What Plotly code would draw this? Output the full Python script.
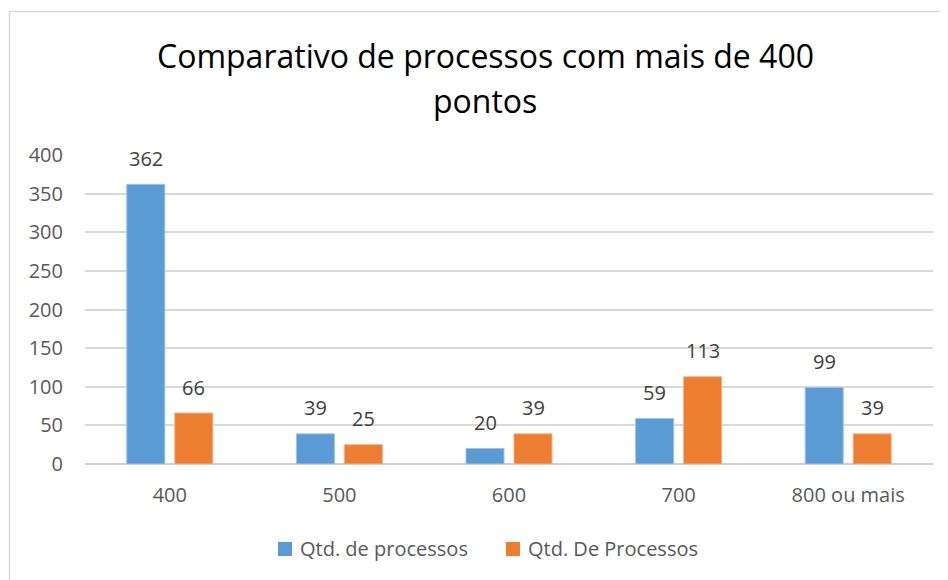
import plotly.graph_objects as go

categories = ["400", "500", "600", "700", "800 ou mais"]
serie_a_nome = "Qtd. de processos"
serie_a = [362, 39, 20, 59, 99]
serie_b_nome = "Qtd. De Processos"
serie_b = [66, 25, 39, 113, 39]
y_ticks = [0, 50, 100, 150, 200, 250, 300, 350, 400]
title_lines = ["Comparativo de processos com mais de 400", "pontos"]

FONT = "Open Sans"
W, H = 940, 572          # browser body has an 8px margin
L, R, T, B = 77, 15, 147, 116
pw = W - L - R
ph = H - T - B

def px_x(x):
    return (x - L) / pw

def px_y(y):
    return (H - B - y) / ph

BLUE = "#5B9BD5"
ORANGE = "#ED7D31"

fig = go.Figure()
fig.add_bar(
    x=categories, y=serie_a, name=serie_a_nome,
    marker=dict(color=BLUE, line=dict(color="#9DC3E6", width=1)),
)
fig.add_bar(
    x=categories, y=serie_b, name=serie_b_nome,
    marker=dict(color=ORANGE, line=dict(color="#F4B183", width=1)),
)

annotations = []
# data labels: x given as category index (numeric-looking names would be read as indices)
for i, (va, vb) in enumerate(zip(serie_a, serie_b)):
    for v, dx in ((va, -24), (vb, 24)):
        annotations.append(dict(
            x=i, y=v, xref="x", yref="y", text=str(v), showarrow=False,
            xshift=dx, yshift=26, yanchor="middle", xanchor="center",
            font=dict(family=FONT, size=20, color="#404040"),
        ))

# title (two lines, placed individually)
for line, cy in zip(title_lines, (48, 92)):
    annotations.append(dict(
        x=px_x(477), y=px_y(cy), xref="paper", yref="paper", text=line,
        showarrow=False, xanchor="center", yanchor="middle",
        font=dict(family=FONT, size=32, color="#000000"),
    ))

# manual legend
legend_items = [(serie_a_nome, BLUE, 270, 290), (serie_b_nome, ORANGE, 498, 518)]
shapes = []
for name, col, sx, tx in legend_items:
    shapes.append(dict(
        type="rect", xref="paper", yref="paper",
        x0=px_x(sx), x1=px_x(sx + 14), y0=px_y(548), y1=px_y(534),
        line=dict(width=0), fillcolor=col,
    ))
    annotations.append(dict(
        x=px_x(tx), y=px_y(540), xref="paper", yref="paper", text=name,
        showarrow=False, xanchor="left", yanchor="middle",
        font=dict(family=FONT, size=20, color="#595959"),
    ))

shapes.append(dict(
    type="rect", xref="paper", yref="paper",
    x0=px_x(1.5), x1=px_x(960), y0=px_y(600), y1=px_y(3.5),
    line=dict(color="#D9D9D9", width=1.5), fillcolor="rgba(0,0,0,0)",
    layer="below",
))

fig.update_layout(
    width=W, height=H,
    margin=dict(l=L, r=R, t=T, b=B),
    paper_bgcolor="white", plot_bgcolor="white",
    barmode="group", bargap=0.434, bargroupgap=0.208,
    font=dict(family=FONT, color="#595959"),
    showlegend=False,
    annotations=annotations,
    shapes=shapes,
)
fig.update_yaxes(
    range=[0, 400], tickvals=y_ticks, showgrid=True, gridcolor="#D9D9D9",
    gridwidth=1.5, zeroline=True, zerolinecolor="#D0D0D0", zerolinewidth=2,
    tickfont=dict(family=FONT, size=20, color="#595959"), ticks="",
    ticklabelstandoff=21, showline=False, fixedrange=True,
)
fig.update_xaxes(
    type="category", categoryorder="array", categoryarray=categories,
    range=[-0.5, len(categories) - 0.5],
    tickfont=dict(family=FONT, size=20, color="#595959"), ticks="",
    ticklabelstandoff=17, showline=False, showgrid=False,
)
fig.write_html("out.html")
